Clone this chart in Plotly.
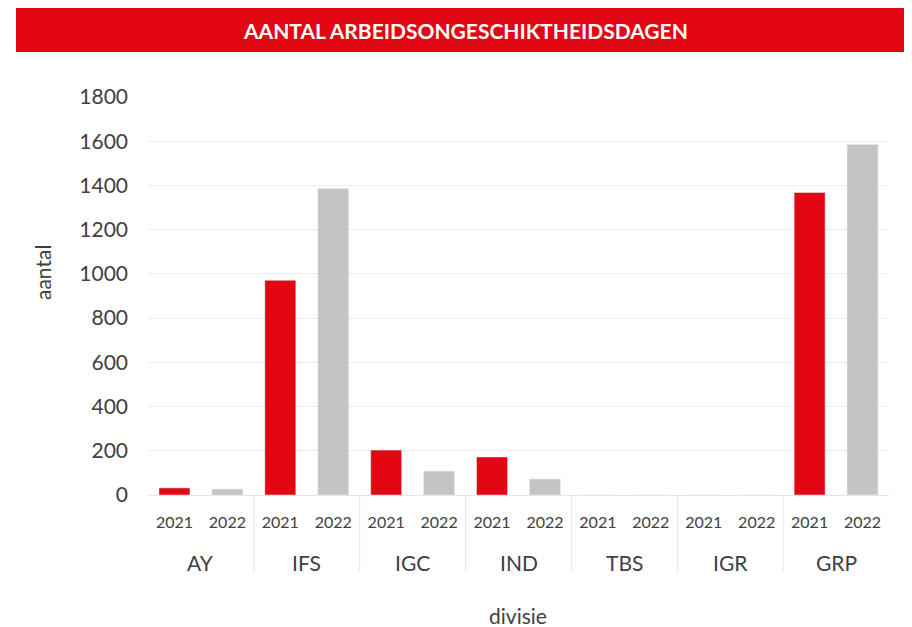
import plotly.graph_objects as go

divisions = ["AY", "IFS", "IGC", "IND", "TBS", "IGR", "GRP"]
years = ["2021", "2022"]
values_2021 = [32, 971, 203, 172, 0, 0, 1368]
values_2022 = [27, 1386, 108, 72, 0, 0, 1585]
y_ticks = [0, 200, 400, 600, 800, 1000, 1200, 1400, 1600, 1800]

RED = "#E30613"
GREY = "#C4C4C4"
TXT = "#404040"
FONT = "Lato"

keys = [f"{d} {y}" for d in divisions for y in years]
keys_2021 = [f"{d} {years[0]}" for d in divisions]
keys_2022 = [f"{d} {years[1]}" for d in divisions]

fig = go.Figure()
fig.add_trace(go.Bar(x=keys_2021, y=values_2021, marker_color=RED, name=years[0]))
fig.add_trace(go.Bar(x=keys_2022, y=values_2022, marker_color=GREY, name=years[1]))

OFF = 8  # page body margin
W, H = 912 - OFF, 627 - OFF
PL, PR, PT, PB = 148, 889, 97, 495  # plot area in screen pixels
L, R, T, B = PL - OFF, W - (PR - OFF), PT - OFF, H - (PB - OFF)
ph = PB - PT
pw = PR - PL

def py(pix):
    return (PB - pix) / ph

def px(pix):
    return (pix - PL) / pw

annotations = []
shapes = []
for i, d in enumerate(divisions):
    annotations.append(dict(x=2 * i + 0.5, xref="x", y=py(562), yref="paper",
                            text=d, showarrow=False, font=dict(family=FONT, size=21, color=TXT),
                            xanchor="center", yanchor="middle"))
for i in range(1, len(divisions)):
    shapes.append(dict(type="line", xref="x", yref="paper", x0=2 * i - 0.5, x1=2 * i - 0.5,
                       y0=0, y1=py(572), line=dict(color="#E6E6E6", width=1)))

# title banner
shapes.append(dict(type="rect", xref="paper", yref="paper", x0=px(16), x1=px(920),
                   y0=py(52), y1=py(6), fillcolor=RED, line=dict(width=0), layer="above"))
annotations.append(dict(x=px(465), y=py(30), xref="paper", yref="paper",
                        text="<b>AANTAL ARBEIDSONGESCHIKTHEIDSDAGEN</b>", showarrow=False,
                        font=dict(family=FONT, size=21, color="white"),
                        xanchor="center", yanchor="middle"))
annotations.append(dict(x=px(518), y=py(615), xref="paper", yref="paper", text="divisie",
                        showarrow=False, font=dict(family=FONT, size=21, color=TXT),
                        xanchor="center", yanchor="middle"))
annotations.append(dict(x=px(42), y=py(273), xref="paper", yref="paper", text="aantal",
                        textangle=-90, showarrow=False, font=dict(family=FONT, size=21, color=TXT),
                        xanchor="center", yanchor="middle"))

fig.update_layout(
    width=W, height=H,
    margin=dict(l=L, r=R, t=T, b=B, autoexpand=False),
    paper_bgcolor="white", plot_bgcolor="white",
    barmode="overlay", bargap=0.415,
    showlegend=False,
    font=dict(family=FONT, color=TXT),
    shapes=shapes, annotations=annotations,
    xaxis=dict(type="category", categoryorder="array", categoryarray=keys,
               tickvals=keys, ticktext=[y for d in divisions for y in years],
               tickfont=dict(family=FONT, size=16, color=TXT),
               showgrid=False, showline=True, linecolor="#E6E6E6", linewidth=1,
               ticks="", ticklabelstandoff=13, range=[-0.5, len(keys) - 0.5]),
    yaxis=dict(range=[0, 1800], tickvals=y_ticks, tickfont=dict(family=FONT, size=21, color=TXT),
               showgrid=True, gridcolor="#EBEBEB", gridwidth=1, zeroline=False,
               showline=False, ticks="", ticklabelstandoff=19),
)

fig.write_html("out.html")
